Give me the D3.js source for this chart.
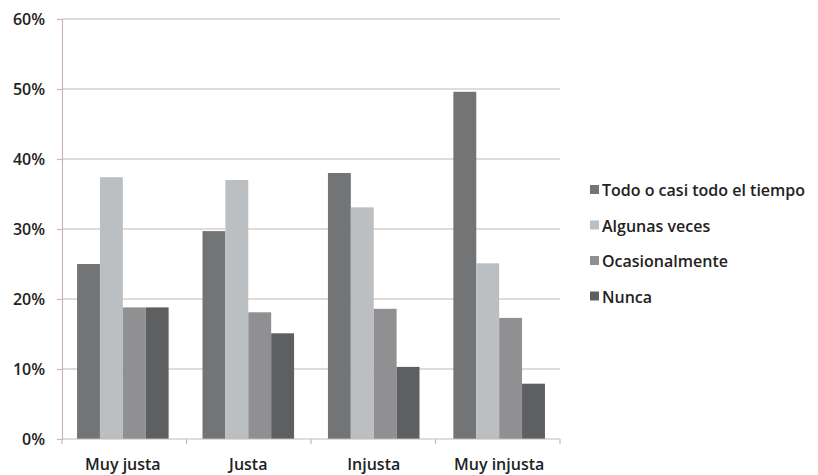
<!DOCTYPE html>
<html>
<head>
    <meta charset="utf-8">
    <title>Frecuencia</title>
    <script type="text/javascript" src="https://cdn.jsdelivr.net/npm/d3@7"></script>
    <style>
        body { margin: 0; background: #fff; }
        text { font-family: "Open Sans", Lato, sans-serif; fill: #222; font-weight: 600; }
        .grid line { stroke: #c9b6b2; stroke-width: 1.2; }
        .axis path, .axis line { stroke: #c9b6b2; stroke-width: 1.2; }
    </style>
</head>
<body>
<script type="text/javascript">
var categories = ["Muy justa", "Justa", "Injusta", "Muy injusta"];
var seriesNames = ["Todo o casi todo el tiempo", "Algunas veces", "Ocasionalmente", "Nunca"];
var todo = [25.0, 29.7, 38.0, 49.6];
var algunas = [37.4, 37.0, 33.1, 25.1];
var ocasional = [18.8, 18.1, 18.6, 17.3];
var nunca = [18.8, 15.1, 10.3, 7.9];
var yTicks = [0, 10, 20, 30, 40, 50, 60];
var colors = ["#727476", "#bcbfc2", "#909092", "#5d5f61"];

var values = [todo, algunas, ocasional, nunca];
var width = 818, height = 475,
    margins = {top: 19, left: 62, right: 258, bottom: 36};

var svg = d3.select("body").append("svg")
        .attr("width", width)
        .attr("height", height);

var x = d3.scaleBand()
        .domain(categories)
        .range([margins.left, width - margins.right])
        .paddingInner(0.27)
        .paddingOuter(0.12);

var xs = d3.scaleBand()
        .domain(d3.range(seriesNames.length))
        .range([0, x.bandwidth()]);

var y = d3.scaleLinear()
        .domain([0, 60])
        .range([height - margins.bottom, margins.top]);

// gridlines
svg.append("g")
        .attr("class", "grid")
        .selectAll("line")
        .data(yTicks.slice(1))
        .enter().append("line")
        .attr("x1", margins.left)
        .attr("x2", width - margins.right)
        .attr("y1", function (d) { return y(d); })
        .attr("y2", function (d) { return y(d); });

// bars
var groups = svg.append("g").selectAll("g")
        .data(categories)
        .enter().append("g")
        .attr("transform", function (d) { return "translate(" + x(d) + ",0)"; });

groups.selectAll("rect")
        .data(function (d, i) {
            return values.map(function (s, j) { return {s: j, v: s[i]}; });
        })
        .enter().append("rect")
        .attr("x", function (d) { return xs(d.s); })
        .attr("width", xs.bandwidth())
        .attr("y", function (d) { return y(d.v); })
        .attr("height", function (d) { return y(0) - y(d.v); })
        .style("fill", function (d) { return colors[d.s]; });

// y axis
var yAxis = d3.axisLeft(y)
        .tickValues(yTicks)
        .tickSize(5)
        .tickPadding(12)
        .tickFormat(function (d) { return d + "%"; });

svg.append("g")
        .attr("class", "axis")
        .attr("transform", "translate(" + margins.left + ",0)")
        .call(yAxis)
        .call(function (g) { g.selectAll("text").style("font-size", "16px"); });

// x axis with ticks between categories
var xAxisG = svg.append("g")
        .attr("class", "axis")
        .attr("transform", "translate(0," + y(0) + ")");

xAxisG.append("line")
        .attr("x1", margins.left).attr("x2", width - margins.right)
        .attr("y1", 0).attr("y2", 0);

var plotW = width - margins.left - margins.right;
xAxisG.selectAll("line.tick")
        .data(d3.range(categories.length + 1))
        .enter().append("line")
        .attr("class", "tick")
        .attr("x1", function (i) { return margins.left + i * plotW / categories.length; })
        .attr("x2", function (i) { return margins.left + i * plotW / categories.length; })
        .attr("y1", 0).attr("y2", 5);

xAxisG.selectAll("text")
        .data(categories)
        .enter().append("text")
        .attr("x", function (d) { return x(d) + x.bandwidth() / 2; })
        .attr("y", 31)
        .attr("text-anchor", "middle")
        .style("font-size", "16px")
        .text(function (d) { return d; });

// legend
var legend = svg.append("g")
        .attr("transform", "translate(590,190)");

var rows = legend.selectAll("g")
        .data(seriesNames)
        .enter().append("g")
        .attr("transform", function (d, i) { return "translate(0," + i * 35.5 + ")"; });

rows.append("rect")
        .attr("x", 0).attr("y", -5)
        .attr("width", 9).attr("height", 9)
        .style("fill", function (d, i) { return colors[i]; });

rows.append("text")
        .attr("x", 12)
        .attr("y", 6)
        .style("font-size", "16px")
        .text(function (d) { return d; });
</script>
</body>
</html>
